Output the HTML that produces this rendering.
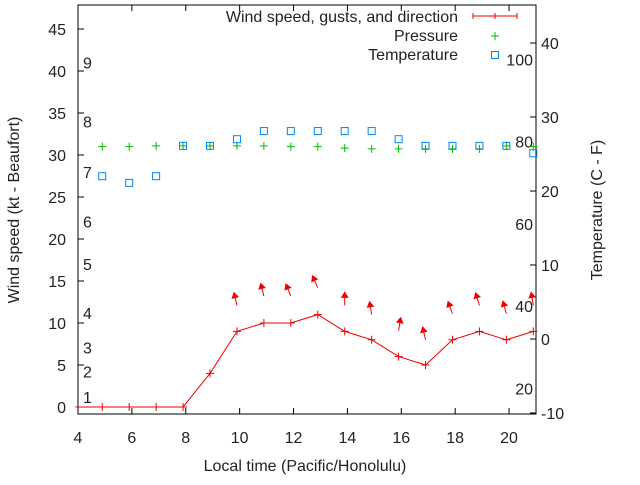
<!DOCTYPE html>
<html><head><meta charset="utf-8"><style>
body{margin:0;background:#fff}
svg text{font-family:"Liberation Sans",sans-serif;font-size:16px;fill:#222}
</style></head><body>
<svg id="chart" width="640" height="480" xmlns="http://www.w3.org/2000/svg">
<g id="g"></g>
</svg>
<script>
const times=[3.9,4.9,5.9,6.9,7.9,8.9,9.9,10.9,11.9,12.9,13.9,14.9,15.9,16.9,17.9,18.9,19.9,20.9];
const windSpeed=[0,0,0,0,0,4,9,10,10,11,9,8,6,5,8,9,8,9];
const pressure=[26,26,26,26.1,26.1,26.1,26.1,26.1,26,26,25.8,25.7,25.7,25.7,25.7,25.7,26.1,26];
const temperature=[null,22.0,21.1,22.0,26.1,26.1,27.0,28.1,28.1,28.1,28.1,28.1,27.0,26.1,26.1,26.1,26.1,25.1];
const arrowTimes=[9.9,10.9,11.9,12.9,13.9,14.9,15.9,16.9,17.9,18.9,19.9,20.9];
const gusts=[12.1,13.2,13.2,14.2,12.1,11.0,9.1,8.0,11.1,12.1,11.1,12.1];
const directions=[-13,-14,-22,-24,0,-9,9,-13,-20,-17,-15,-9];
const xTicks=[4,6,8,10,12,14,16,18,20];
const yTicks=[0,5,10,15,20,25,30,35,40,45];
const y2Ticks=[-10,0,10,20,30,40];
const beaufort=[[1,1.2],[2,4.2],[3,7.1],[4,11.2],[5,17],[6,22.1],[7,28],[8,34],[9,41]];
const fahr=[20,40,60,80,100];

const L=78,R=536,T=5,B=414;
const X=v=>L+(v-4)*(R-L)/17;
const Y=v=>407-v*8.4;
const Y2=v=>339-v*7.4;
const g=document.getElementById('g');
const NS='http://www.w3.org/2000/svg';
function mk(tag,at,txt){const e=document.createElementNS(NS,tag);for(const k in at)e.setAttribute(k,at[k]);if(txt!==undefined)e.textContent=txt;g.appendChild(e);return e;}

let e=mk('rect',{x:L,y:T,width:R-L,height:B-T,fill:'none',stroke:'#000','stroke-width':1});


xTicks.forEach(t=>{
 mk('line',{x1:X(t),x2:X(t),y1:B,y2:B-6,stroke:'#000'});
 mk('line',{x1:X(t),x2:X(t),y1:T,y2:T+6,stroke:'#000'});
 e=mk('text',{x:X(t),y:B+29,'text-anchor':'middle'},t);
 
 
});
yTicks.forEach(t=>{
 mk('line',{x1:L,x2:L+6,y1:Y(t),y2:Y(t),stroke:'#000'});
 e=mk('text',{x:L-12,y:Y(t)+6,'text-anchor':'end'},t);
 
 
});
y2Ticks.forEach(t=>{
 mk('line',{x1:R,x2:R-6,y1:Y2(t),y2:Y2(t),stroke:'#000'});
 e=mk('text',{x:R+5,y:Y2(t)+6},t);
 
 
});
beaufort.forEach(b=>{
 e=mk('text',{x:83,y:Y(b[1])+6},b[0]);
 
 
});
fahr.forEach(f=>{
 e=mk('text',{x:533,y:Y2((f-32)/1.8)+6,'text-anchor':'end'},f);
 
 
});
e=mk('polyline',{points:times.map((t,i)=>X(t)+','+Y(windSpeed[i])).join(' '),fill:'none',stroke:'#e00','stroke-width':1});


times.forEach((t,i)=>{if(t<4)return;const x=X(t),y=Y(windSpeed[i]);
 e=mk('path',{d:`M${x-4},${y}h8M${x},${y-4}v8`,stroke:'#e00'});
 
 
});
arrowTimes.forEach((t,i)=>{const x=X(t),y=Y(gusts[i]),a=directions[i]*Math.PI/180,len=13;
 const hx=x+len*Math.sin(a),hy=y-len*Math.cos(a);
 const ux=Math.sin(a),uy=-Math.cos(a),px=-uy,py=ux;
 e=mk('path',{d:`M${x},${y}L${hx},${hy}M${hx},${hy}L${hx-5*ux+3*px},${hy-5*uy+3*py}L${hx-5*ux-3*px},${hy-5*uy-3*py}Z`,stroke:'#e00',fill:'#e00','stroke-width':1});
 
 
});
times.forEach((t,i)=>{if(t<4)return;const x=X(t),y=Y2(pressure[i]);
 e=mk('path',{d:`M${x-4},${y}h8M${x},${y-4}v8`,stroke:'#0b0'});
 
 
});
times.forEach((t,i)=>{if(temperature[i]==null)return;const x=X(t),y=Y2(temperature[i]);
 e=mk('rect',{x:x-3.5,y:y-3.5,width:7,height:7,fill:'none',stroke:'#08e'});
 
 
});
e=mk('text',{x:458,y:22,'text-anchor':'end'},'Wind speed, gusts, and direction');


mk('path',{d:'M473,16h44M473,13v6M495,13v6M517,13v6',stroke:'#e00'});
e=mk('text',{x:458,y:41,'text-anchor':'end'},'Pressure');


mk('path',{d:'M491,36h8M495,32v8',stroke:'#0b0'});
e=mk('text',{x:458,y:60,'text-anchor':'end'},'Temperature');


mk('rect',{x:491.5,y:51.5,width:7,height:7,fill:'none',stroke:'#08e'});
e=mk('text',{x:305,y:471,'text-anchor':'middle'},'Local time (Pacific/Honolulu)');


e=mk('text',{x:0,y:0,'text-anchor':'middle',transform:'translate(19,210) rotate(-90)'},'Wind speed (kt - Beaufort)');


e=mk('text',{x:0,y:0,'text-anchor':'middle',transform:'translate(602,210) rotate(-90)'},'Temperature (C - F)');


</script>
</body></html>
